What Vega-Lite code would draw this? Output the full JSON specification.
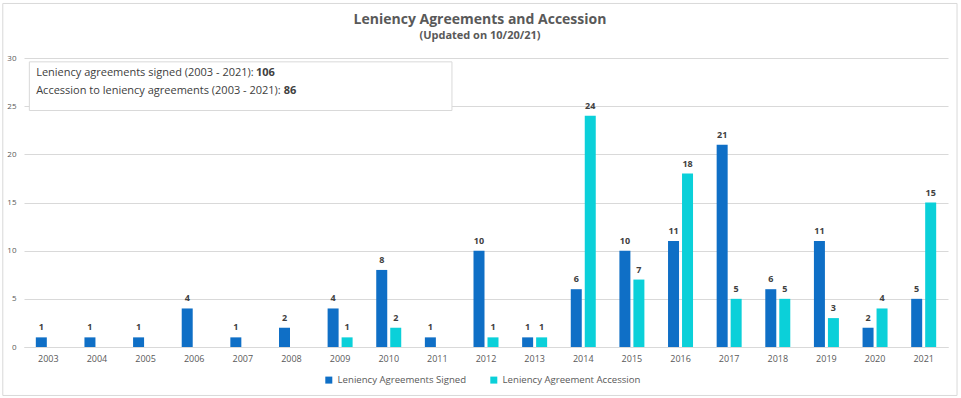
{
  "$schema": "https://vega.github.io/schema/vega-lite/v6.json",
  "width": 924,
  "height": 289,
  "autosize": {"type": "none"},
  "padding": {"left": 24, "top": 58, "right": 13, "bottom": 51},
  "background": "white",
  "config": {"view": {"stroke": null}, "font": "Open Sans"},
  "title": {
    "text": "Leniency Agreements and Accession",
    "subtitle": "(Updated on 10/20/21)",
    "anchor": "middle",
    "font": "Open Sans",
    "fontSize": 14,
    "fontWeight": "bold",
    "color": "#595959",
    "subtitleFont": "Open Sans",
    "subtitleFontSize": 11,
    "subtitleFontWeight": "bold",
    "subtitleColor": "#595959",
    "subtitlePadding": 3,
    "offset": -38,
    "dx": -6
  },
  "data": {
    "values": [
      {"year": "2003", "series": "Leniency Agreements Signed", "count": 1},
      {"year": "2004", "series": "Leniency Agreements Signed", "count": 1},
      {"year": "2005", "series": "Leniency Agreements Signed", "count": 1},
      {"year": "2006", "series": "Leniency Agreements Signed", "count": 4},
      {"year": "2007", "series": "Leniency Agreements Signed", "count": 1},
      {"year": "2008", "series": "Leniency Agreements Signed", "count": 2},
      {"year": "2009", "series": "Leniency Agreements Signed", "count": 4},
      {"year": "2010", "series": "Leniency Agreements Signed", "count": 8},
      {"year": "2011", "series": "Leniency Agreements Signed", "count": 1},
      {"year": "2012", "series": "Leniency Agreements Signed", "count": 10},
      {"year": "2013", "series": "Leniency Agreements Signed", "count": 1},
      {"year": "2014", "series": "Leniency Agreements Signed", "count": 6},
      {"year": "2015", "series": "Leniency Agreements Signed", "count": 10},
      {"year": "2016", "series": "Leniency Agreements Signed", "count": 11},
      {"year": "2017", "series": "Leniency Agreements Signed", "count": 21},
      {"year": "2018", "series": "Leniency Agreements Signed", "count": 6},
      {"year": "2019", "series": "Leniency Agreements Signed", "count": 11},
      {"year": "2020", "series": "Leniency Agreements Signed", "count": 2},
      {"year": "2021", "series": "Leniency Agreements Signed", "count": 5},
      {"year": "2009", "series": "Leniency Agreement Accession", "count": 1},
      {"year": "2010", "series": "Leniency Agreement Accession", "count": 2},
      {"year": "2012", "series": "Leniency Agreement Accession", "count": 1},
      {"year": "2013", "series": "Leniency Agreement Accession", "count": 1},
      {"year": "2014", "series": "Leniency Agreement Accession", "count": 24},
      {"year": "2015", "series": "Leniency Agreement Accession", "count": 7},
      {"year": "2016", "series": "Leniency Agreement Accession", "count": 18},
      {"year": "2017", "series": "Leniency Agreement Accession", "count": 5},
      {"year": "2018", "series": "Leniency Agreement Accession", "count": 5},
      {"year": "2019", "series": "Leniency Agreement Accession", "count": 3},
      {"year": "2020", "series": "Leniency Agreement Accession", "count": 4},
      {"year": "2021", "series": "Leniency Agreement Accession", "count": 15}
    ]
  },
  "layer": [
    {
      "encoding": {
        "x": {
          "field": "year",
          "type": "nominal",
          "scale": {"paddingInner": 0.486, "paddingOuter": 0.243},
          "axis": {
            "title": null,
            "labelAngle": 0,
            "ticks": false,
            "domainColor": "#D9D9D9",
            "labelFontSize": 9,
            "labelColor": "#595959",
            "labelFont": "Open Sans",
            "labelPadding": 7,
            "grid": false
          }
        },
        "xOffset": {
          "field": "series",
          "type": "nominal",
          "scale": {"domain": ["Leniency Agreements Signed", "Leniency Agreement Accession"], "paddingInner": 0.214, "paddingOuter": 0}
        },
        "y": {
          "field": "count",
          "type": "quantitative",
          "scale": {"domain": [0, 30], "nice": false},
          "axis": {
            "values": [0, 5, 10, 15, 20, 25, 30],
            "title": null,
            "domain": false,
            "ticks": false,
            "labelPadding": 8,
            "labelFontSize": 8,
            "labelColor": "#595959",
            "labelFont": "Open Sans",
            "gridColor": "#D9D9D9",
            "gridWidth": 1
          }
        }
      },
      "layer": [
        {
          "mark": {"type": "bar"},
          "encoding": {
            "color": {
              "field": "series",
              "type": "nominal",
              "scale": {
                "domain": ["Leniency Agreements Signed", "Leniency Agreement Accession"],
                "range": ["#0F6FC6", "#0BD0D9"]
              },
              "legend": {
                "title": null,
                "orient": "none",
                "legendX": 300,
                "legendY": 317,
                "direction": "horizontal",
                "symbolType": "square",
                "symbolSize": 49,
                "symbolStrokeWidth": 0,
                "labelFontSize": 9.6,
                "labelColor": "#595959",
                "labelFont": "Open Sans",
                "columnPadding": 22
              }
            }
          }
        },
        {
          "mark": {"type": "text", "baseline": "bottom", "dy": -5, "fontWeight": "bold", "fontSize": 9, "color": "#404040", "font": "Open Sans"},
          "encoding": {
            "text": {"field": "count", "type": "quantitative"}
          }
        }
      ]
    },
    {
      "data": {"values": [{}]},
      "encoding": {
        "x": {"type": "quantitative", "scale": {"domain": [2002.5, 2021.5], "nice": false, "zero": false}, "axis": null}
      },
      "layer": [
        {
          "mark": {"type": "rect", "fill": null, "stroke": "#D9D9D9", "strokeWidth": 1},
          "encoding": {
            "x": {"datum": 2002.064, "type": "quantitative"},
            "x2": {"datum": 2021.686},
            "y": {"datum": -5.03, "type": "quantitative"},
            "y2": {"datum": 35.66}
          }
        },
        {
          "mark": {"type": "rect", "fill": "white", "stroke": "#D9D9D9", "strokeWidth": 1},
          "encoding": {
            "x": {"datum": 2002.61, "type": "quantitative"},
            "x2": {"datum": 2011.3},
            "y": {"datum": 24.55, "type": "quantitative"},
            "y2": {"datum": 29.6}
          }
        },
        {
          "mark": {"type": "text", "align": "left", "baseline": "middle", "fontSize": 11, "color": "#404040", "font": "Open Sans"},
          "encoding": {
            "x": {"datum": 2002.75, "type": "quantitative"},
            "y": {"datum": 28.44, "type": "quantitative"},
            "text": {"value": "Leniency agreements signed (2003 - 2021):"}
          }
        },
        {
          "mark": {"type": "text", "align": "left", "baseline": "middle", "fontSize": 11, "fontWeight": "bold", "color": "#404040", "font": "Open Sans"},
          "encoding": {
            "x": {"datum": 2007.27, "type": "quantitative"},
            "y": {"datum": 28.44, "type": "quantitative"},
            "text": {"value": "106"}
          }
        },
        {
          "mark": {"type": "text", "align": "left", "baseline": "middle", "fontSize": 11, "color": "#404040", "font": "Open Sans"},
          "encoding": {
            "x": {"datum": 2002.75, "type": "quantitative"},
            "y": {"datum": 26.58, "type": "quantitative"},
            "text": {"value": "Accession to leniency agreements (2003 - 2021):"}
          }
        },
        {
          "mark": {"type": "text", "align": "left", "baseline": "middle", "fontSize": 11, "fontWeight": "bold", "color": "#404040", "font": "Open Sans"},
          "encoding": {
            "x": {"datum": 2007.84, "type": "quantitative"},
            "y": {"datum": 26.58, "type": "quantitative"},
            "text": {"value": "86"}
          }
        }
      ]
    }
  ],
  "resolve": {"scale": {"x": "independent"}, "axis": {"x": "independent"}}
}
